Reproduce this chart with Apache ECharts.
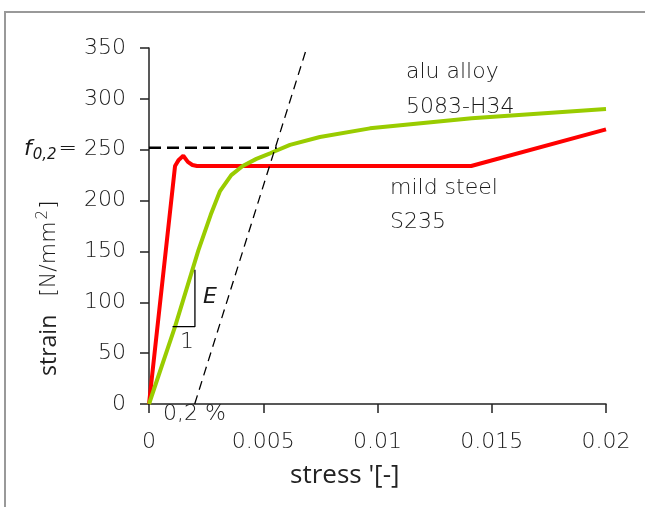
<!DOCTYPE html>
<html><head><meta charset="utf-8">
<script src="https://cdn.jsdelivr.net/npm/echarts@6/dist/echarts.min.js"></script>
<style>html,body{margin:0;padding:0;background:#fff}#c{width:645px;height:507px}</style>
</head><body><div id="c"></div>
<script>
// ---- data ----
const xTickValues = [0, 0.005, 0.01, 0.015, 0.02];
const yTickValues = [0, 50, 100, 150, 200, 250, 300, 350];
const mildSteel = [[0,0],[0.00114,234],[0.0013,240],[0.0015,244],[0.0017,238],[0.0019,235],[0.0021,234],[0.0141,234],[0.02,270]];
const aluAlloy = [[0,0],[0.00114,76],[0.00216,151],[0.0027,186],[0.0031,209],[0.0036,225],[0.0041,234],[0.0047,241],[0.0053,246.5],[0.00617,254.7],[0.00748,262.5],[0.00967,271],[0.01412,281],[0.02,290]];
const proofLine = [[0.002,0],[0.0069,350]];
const proofLevel = [[0,252],[0.00559,252]];
const slopeTriangle = [[0.00103,76],[0.00201,76],[0.00201,132]];
const f02Value = 250;

const FONT = 'DejaVu Sans';
const TXT = '#1a1a1a';
const W = 300;
const chart = echarts.init(document.getElementById('c'), null, {renderer:'canvas'});
chart.setOption({
  animation:false,
  backgroundColor:'#fff',
  grid:{left:149, right:39, top:48, bottom:103, containLabel:false},
  xAxis:{
    type:'value', min:xTickValues[0], max:xTickValues[xTickValues.length-1], interval:0.005,
    axisLine:{show:true, onZero:false, lineStyle:{color:'#222', width:1.5}},
    axisTick:{show:true, length:9, lineStyle:{color:'#222', width:1.5}},
    axisLabel:{margin:27, color:TXT, fontFamily:FONT, fontSize:22, fontWeight:W},
    splitLine:{show:false}
  },
  yAxis:{
    type:'value', min:yTickValues[0], max:yTickValues[yTickValues.length-1], interval:50,
    axisLine:{show:true, lineStyle:{color:'#222', width:1.5}},
    axisTick:{show:true, length:9, lineStyle:{color:'#222', width:1.5}},
    axisLabel:{margin:23, color:TXT, fontFamily:FONT, fontSize:22, fontWeight:W,
      formatter:function(v){ return v===f02Value ? '{f|f}{s|0,2}{e|=} ' + v : String(v); },
      rich:{
        f:{fontFamily:FONT, fontStyle:'italic', fontSize:22, color:TXT, fontWeight:W},
        s:{fontFamily:FONT, fontStyle:'italic', fontSize:15, color:TXT, padding:[10,0,0,1], fontWeight:W},
        e:{fontFamily:FONT, fontSize:22, color:TXT, padding:[0,0,0,2], fontWeight:W}
      }
    },
    splitLine:{show:false}
  },
  series:[
    {type:'line', name:'mild steel S235', data:mildSteel, showSymbol:false, symbol:'none',
     lineStyle:{color:'#ff0000', width:4}, z:2},
    {type:'line', name:'alu alloy 5083-H34', data:aluAlloy, showSymbol:false, symbol:'none',
     lineStyle:{color:'#99cc00', width:4}, z:3},
    {type:'line', data:proofLevel, showSymbol:false, symbol:'none',
     lineStyle:{color:'#000', width:2.5, type:[12,6]}, z:4},
    {type:'line', data:proofLine, showSymbol:false, symbol:'none',
     lineStyle:{color:'#000', width:1.3, type:[9,6]}, z:4},
    {type:'line', data:slopeTriangle, showSymbol:false, symbol:'none',
     lineStyle:{color:'#000', width:1.3}, z:4}
  ],
  graphic:[
    {type:'rect', shape:{x:5, y:12, width:800, height:700}, style:{fill:'none', stroke:'#999', lineWidth:2}, z:-10, silent:true},
    {type:'text', x:406, y:72, style:{text:'alu alloy', font:'300 22px "DejaVu Sans"', fill:TXT, verticalAlign:'middle'}},
    {type:'text', x:406, y:107, style:{text:'5083-H34', font:'300 22px "DejaVu Sans"', fill:TXT, verticalAlign:'middle'}},
    {type:'text', x:390, y:188, style:{text:'mild steel', font:'300 22px "DejaVu Sans"', fill:TXT, verticalAlign:'middle'}},
    {type:'text', x:390, y:222, style:{text:'S235', font:'300 22px "DejaVu Sans"', fill:TXT, verticalAlign:'middle'}},
    {type:'text', x:203, y:297, style:{text:'E', font:'italic 300 22px "DejaVu Sans"', fill:TXT, verticalAlign:'middle'}},
    {type:'text', x:180, y:342, style:{text:'1', font:'300 22px "DejaVu Sans"', fill:TXT, verticalAlign:'middle'}},
    {type:'text', x:163, y:414, style:{text:'0,2 %', font:'300 22px "DejaVu Sans"', fill:TXT, verticalAlign:'middle'}},
    {type:'text', x:290, y:476, style:{text:"stress '[-]", font:'500 26px "Open Sans"', fill:'#222', verticalAlign:'middle'}},
    {type:'text', x:49, y:376, rotation:Math.PI/2, style:{
        text:'{a|strain}{g|}{b|[N/mm}{c|2}{b|]}', align:'left', verticalAlign:'middle',
        rich:{
          a:{fontFamily:'Open Sans', fontWeight:500, fontSize:23, fill:'#222'},
          g:{width:18},
          b:{fontFamily:FONT, fontWeight:W, fontSize:22, fill:TXT},
          c:{fontFamily:FONT, fontWeight:W, fontSize:15, fill:TXT, padding:[0,1,12,2]}
        }}}
  ]
});
</script></body></html>
